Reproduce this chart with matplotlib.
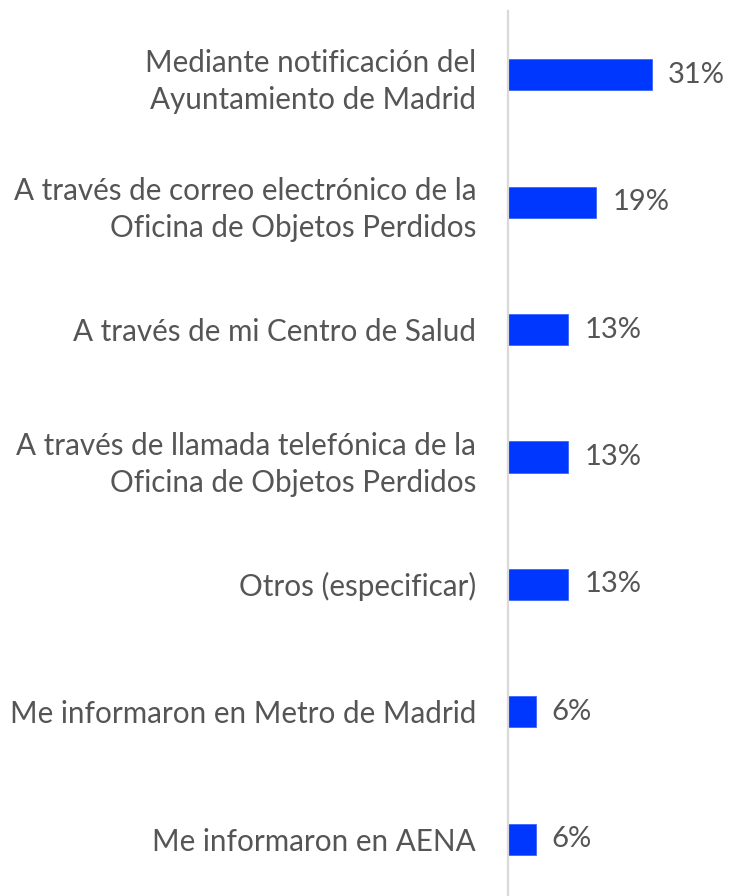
import matplotlib
matplotlib.use("Agg")
import matplotlib.pyplot as plt

categories = [
    "Mediante notificación del\nAyuntamiento de Madrid",
    "A través de correo electrónico de la\nOficina de Objetos Perdidos",
    "A través de mi Centro de Salud",
    "A través de llamada telefónica de la\nOficina de Objetos Perdidos",
    "Otros (especificar)",
    "Me informaron en Metro de Madrid",
    "Me informaron en AENA",
]
values = [31, 19, 13, 13, 13, 6, 6]
value_labels = ["31%", "19%", "13%", "13%", "13%", "6%", "6%"]

W, H = 730, 896
fig = plt.figure(figsize=(W / 100, H / 100), dpi=100)
ax_left = 508 / W
ax_w = (730 - 508) / W
ax_top = 1 - 11 / H
ax_bottom = 1 - 903 / H
ax = fig.add_axes([ax_left, ax_bottom, ax_w, ax_top - ax_bottom])

font = "Lato"
txt_color = "#555555"
n = len(categories)
y = list(range(n))
ax.barh(y, values, height=0.245, color="#0037ff", edgecolor="#2a5bff", linewidth=0.5)
ax.set_ylim(n - 0.5, -0.5)
ax.set_xlim(0, 222 / 4.65)

for yi, v, lab in zip(y, values, value_labels):
    ax.annotate(lab, xy=(v, yi), xytext=(11.5, 0), textcoords="offset points",
                ha="left", va="center", fontsize=21, color=txt_color, family=font)

ax.set_yticks(y)
ax.set_yticklabels(categories, fontsize=21.3, color=txt_color, family=font,
                   linespacing=1.4)
ax.tick_params(axis="y", length=0, pad=23)
ax.set_xticks([])
for s in ["top", "right", "bottom"]:
    ax.spines[s].set_visible(False)
ax.spines["left"].set_color("#d9d9d9")
ax.spines["left"].set_linewidth(1.6)

fig.savefig("out.png", dpi=100, facecolor="white")
